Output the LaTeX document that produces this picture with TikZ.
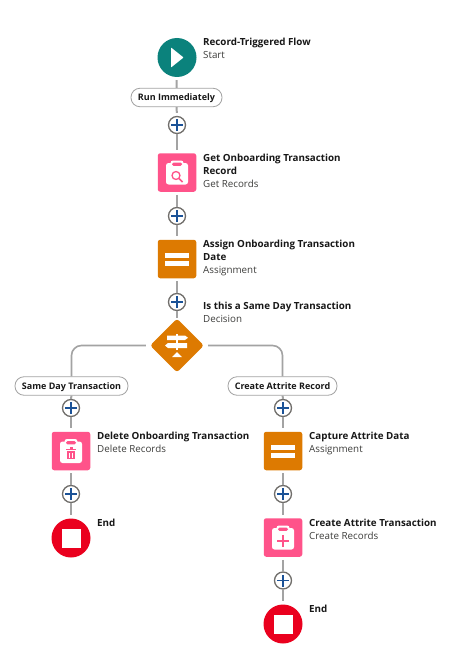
\documentclass[tikz,border=0pt]{standalone}
\usepackage{fontspec}
\setmainfont{Open Sans}
\usetikzlibrary{shapes.geometric}
\definecolor{teal}{HTML}{0B827C}
\definecolor{pinkbox}{HTML}{FF538A}
\definecolor{orangebox}{HTML}{DD7A01}
\definecolor{redend}{HTML}{EA001E}
\definecolor{wire}{HTML}{A3A3A3}
\definecolor{ring}{HTML}{706E6B}
\definecolor{plusblue}{HTML}{1B5297}
\definecolor{ink}{HTML}{181818}
\definecolor{subink}{HTML}{3E3E3C}
\tikzset{
  x=1pt,y=-1pt,
  wire/.style={draw=wire,line width=2pt},
  wirethin/.style={draw=wire,line width=1.6pt,rounded corners=10pt},
  roundnode/.style={circle,minimum size=39pt,inner sep=0pt},
  boxnode/.style={rectangle,rounded corners=2.5pt,minimum size=38.5pt,inner sep=0pt},
  pillnode/.style={draw=wire,fill=white,line width=0.8pt,rounded corners=9pt,minimum height=18.5pt,inner sep=0pt,font=\fontsize{9}{11}\selectfont\bfseries,text=ink,text height=7.5pt,text depth=1.5pt},
  plusnode/.style={circle,draw=ring,fill=white,line width=1.3pt,minimum size=17pt,inner sep=0pt,
    path picture={\draw[plusblue,line width=1.3pt] ([xshift=-6pt]path picture bounding box.center) -- ([xshift=6pt]path picture bounding box.center) ([yshift=-6pt]path picture bounding box.center) -- ([yshift=6pt]path picture bounding box.center);}},
  labelnode/.style={anchor=north west,align=left,inner sep=0pt,text=ink,font=\fontsize{9.8}{13}\selectfont},
}
\newcommand{\ttl}[1]{\textbf{#1}}
\newcommand{\sbt}[1]{\textcolor{subink}{#1}}
% clipboard base drawn around the centre of a box node
\newcommand{\clipbase}[2]{%
  \begin{scope}[shift={(#1)}]
    \fill[white,rounded corners=2.5pt] (-11,-9.5) rectangle (11,12);
    \fill[white,rounded corners=2.5pt] (-6.5,-12) rectangle (6.5,-5);
    \fill[#2,rounded corners=1.5pt] (-5,-10) rectangle (5,-6.7);
  \end{scope}}
\begin{document}
\begin{tikzpicture}
\useasboundingbox (0,0) rectangle (463,666);
\fill[white] (0,0) rectangle (463,666);

% nodes
\node[roundnode,fill=teal] (start) at (177,57.5) {};
\node[pillnode,minimum width=91pt] (run) at (176.5,97.5) {Run Immediately};
\node[plusnode] (p1) at (177,125) {};
\node[boxnode,fill=pinkbox] (get) at (177,172.5) {};
\node[plusnode] (p2) at (177,216) {};
\node[boxnode,fill=orangebox] (assign) at (177,259) {};
\node[plusnode] (p3) at (177,302) {};
\node[diamond,fill=orangebox,rounded corners=3pt,minimum width=54pt,minimum height=54pt,inner sep=0pt] (dec) at (177,345.5) {};
\node[pillnode,minimum width=113pt] (same) at (71.5,386) {Same Day Transaction};
\node[pillnode,minimum width=109pt] (attr) at (282.5,386) {Create Attrite Record};
\node[plusnode] (p4) at (71,408) {};
\node[boxnode,fill=pinkbox] (del) at (71,451) {};
\node[plusnode] (p5) at (71,494) {};
\node[roundnode,fill=redend] (end1) at (71,538) {};
\node[plusnode] (p6) at (283,408) {};
\node[boxnode,fill=orangebox] (cap) at (283,451) {};
\node[plusnode] (p7) at (283,494) {};
\node[boxnode,fill=pinkbox] (create) at (283,537.5) {};
\node[plusnode] (p8) at (283,580.5) {};
\node[roundnode,fill=redend] (end2) at (283,624) {};

% connectors
\draw[wire,shorten <=3pt] (start) -- (run);
\draw[wire,shorten >=3pt] (run) -- (p1);
\draw[wire,shorten >=3pt] (p1) -- (get);
\draw[wire,shorten <=3pt] (get) -- (p2);
\draw[wire,shorten >=3.5pt] (p2) -- (assign);
\draw[wire,shorten <=3pt] (assign) -- (p3);
\draw[wire] (p3) -- (dec);
\draw[wirethin,shorten <=4pt] (dec.west) -| (same.north);
\draw[wirethin,shorten <=4pt] (dec.east) -| (attr.north);
\draw[wire] (same) -- (p4);
\draw[wire,shorten >=3.5pt] (p4) -- (del);
\draw[wire,shorten <=3pt] (del) -- (p5);
\draw[wire,shorten >=3.5pt] (p5) -- (end1);
\draw[wire] (attr) -- (p6);
\draw[wire,shorten >=3.5pt] (p6) -- (cap);
\draw[wire,shorten <=3pt] (cap) -- (p7);
\draw[wire,shorten >=3.5pt] (p7) -- (create);
\draw[wire,shorten <=3pt] (create) -- (p8);
\draw[wire,shorten >=3.5pt] (p8) -- (end2);

% start icon
\fill[white,rounded corners=0.5pt] ([xshift=-6pt,yshift=-10pt]start.center) -- ([xshift=6.5pt]start.center) -- ([xshift=-6pt,yshift=10pt]start.center) -- cycle;
% end icons
\foreach \n in {end1,end2}
  \fill[white] ([xshift=-9.5pt,yshift=-9.5pt]\n.center) rectangle ([xshift=9.5pt,yshift=9.5pt]\n.center);
% assignment icons
\foreach \n in {assign,cap}{
  \begin{scope}[shift={(\n.center)}]
    \fill[white] (-12,-6) rectangle (12,-1.5);
    \fill[white] (-12,2) rectangle (12,6.5);
  \end{scope}}
% clipboard: search
\clipbase{get.center}{pinkbox}
\begin{scope}[shift={(get.center)}]
  \draw[pinkbox,line width=1.3pt] (-1,3) circle (4);
  \draw[pinkbox,line width=1.5pt] (2,6) -- (5.5,9.5);
\end{scope}
% clipboard: delete
\clipbase{del.center}{pinkbox}
\begin{scope}[shift={(del.center)}]
  \fill[pinkbox] (-5,-2.5) rectangle (5,-1);
  \fill[pinkbox] (-1.5,-4) rectangle (1.5,-2.5);
  \fill[pinkbox] (-4,0) rectangle (4,8);
  \fill[white] (-2,2) rectangle (-0.6,6.5);
  \fill[white] (0.6,2) rectangle (2,6.5);
\end{scope}
% clipboard: create
\clipbase{create.center}{pinkbox}
\begin{scope}[shift={(create.center)}]
  \fill[pinkbox] (-6,2.5) rectangle (6,4);
  \fill[pinkbox] (-0.75,-2.5) rectangle (0.75,9);
\end{scope}
% decision icon
\begin{scope}[shift={(dec.center)}]
  \fill[white] (-10,-10) -- (8,-10) -- (11,-7.7) -- (8,-5.5) -- (-10,-5.5) -- cycle;
  \fill[white] (10,-2.5) -- (-9,-2.5) -- (-12,0) -- (-9,2.5) -- (10,2.5) -- cycle;
  \fill[white] (-1,-12) rectangle (1,4);
  \fill[white] (0,6.5) -- (5,11.5) -- (-5,11.5) -- cycle;
\end{scope}

% labels
\node[labelnode] (l1) at (203,38) {\ttl{Record-Triggered Flow}\\\sbt{Start}};
\node[labelnode] (l2) at (203,154) {\ttl{Get Onboarding Transaction}\\\ttl{Record}\\\sbt{Get Records}};
\node[labelnode] (l3) at (203,240) {\ttl{Assign Onboarding Transaction}\\\ttl{Date}\\\sbt{Assignment}};
\node[labelnode] (l4) at (203,302) {\ttl{Is this a Same Day Transaction}\\\sbt{Decision}};
\node[labelnode] (l5) at (97,432) {\ttl{Delete Onboarding Transaction}\\\sbt{Delete Records}};
\node[labelnode] (l6) at (97,518.5) {\ttl{End}};
\node[labelnode] (l7) at (309,432) {\ttl{Capture Attrite Data}\\\sbt{Assignment}};
\node[labelnode] (l8) at (309,518.5) {\ttl{Create Attrite Transaction}\\\sbt{Create Records}};
\node[labelnode] (l9) at (309,604.5) {\ttl{End}};
\end{tikzpicture}
\end{document}
